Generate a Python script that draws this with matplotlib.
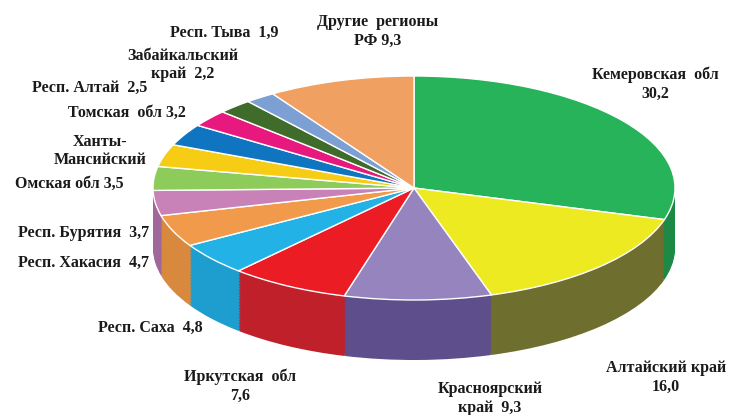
import matplotlib
matplotlib.use("Agg")
import matplotlib.pyplot as plt
import numpy as np

# ---- data ----
regions = ["Кемеровская обл", "Алтайский край", "Красноярский край", "Иркутская обл",
           "Респ. Саха", "Респ. Хакасия", "Респ. Бурятия", "Омская обл",
           "Ханты-Мансийский", "Томская обл", "Респ. Алтай", "Забайкальский край",
           "Респ. Тыва", "Другие регионы РФ"]
values = [30.2, 16.0, 9.3, 7.6, 4.8, 4.7, 3.7, 3.5, 3.3, 3.2, 2.5, 2.2, 1.9, 9.3]
labels = ["Кемеровская  обл\n30,2", "Алтайский край\n16,0", "Красноярский\nкрай  9,3",
          "Иркутская  обл\n7,6", "Респ. Саха  4,8", "Респ. Хакасия  4,7",
          "Респ. Бурятия  3,7", "Омская обл 3,5", "Ханты-\nМансийский",
          "Томская  обл 3,2", "Респ. Алтай  2,5", "Забайкальский\nкрай  2,2",
          "Респ. Тыва  1,9", "Другие  регионы\nРФ 9,3"]
top_colors = ["#27b35a", "#eeea22", "#9584bd", "#ec1c24", "#22b2e6", "#f19a4b",
              "#c882b8", "#8dcc5a", "#f7cc14", "#1075c0", "#e8197e", "#3f6b2b",
              "#7c9fd4", "#f0a060"]
side_colors = ["#1c8a44", "#6e6e2e", "#5e4e8c", "#c0202a", "#1e9ecf", "#d9893e",
               "#a0689a", "#6fa548", "#c8a410", "#0c5c98", "#b81464", "#2f5020",
               "#6080b0", "#c88050"]

# label layout (pixel centres)
label_pos = [(655, 84), (666, 377), (490, 398), (240, 386), (150, 328), (84, 263),
             (84, 233), (69, 184), (100, 151), (127, 113), (90, 88), (183, 65),
             (224, 33), (378, 31)]

W, H = 735, 415
fig = plt.figure(figsize=(W / 100, H / 100), dpi=100)
ax = fig.add_axes([0, 0, 1, 1])

cx_px, cy_px = 414, 188
ax_px, by_px = 261, 112
thick = 60 / by_px

# side: stacked pies
n_layers = 40
for k in range(n_layers, 0, -1):
    off = -thick * k / n_layers
    ax.pie(values, colors=side_colors, startangle=90, counterclock=False,
           radius=1, center=(0, off), frame=True,
           wedgeprops=dict(linewidth=0, edgecolor="none"))

# top face
ax.pie(values, colors=top_colors, startangle=90, counterclock=False,
       radius=1, center=(0, 0), frame=True,
       wedgeprops=dict(linewidth=1.0, edgecolor="white"))

ax.set_aspect("auto")
ax.set_xlim(-cx_px / ax_px, (W - cx_px) / ax_px)
ax.set_ylim(-(H - cy_px) / by_px, cy_px / by_px)
ax.axis("off")

for lab, (x, y) in zip(labels, label_pos):
    fig.text(x / W, 1 - y / H, lab, ha="center", va="center",
             fontsize=11.5, fontweight="bold", family="Liberation Serif",
             color="#1a1a1a", linespacing=1.25)

fig.savefig("out.png", dpi=100)
